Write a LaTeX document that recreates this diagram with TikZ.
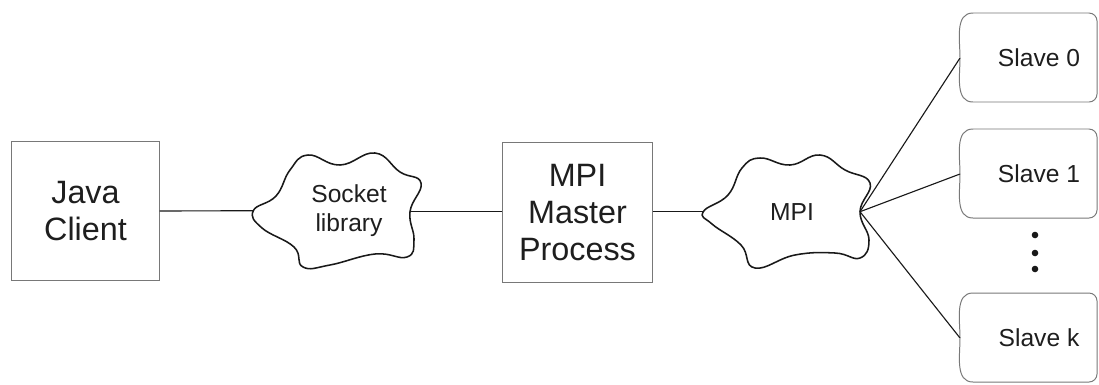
\documentclass[tikz,border=0pt]{standalone}
\usepackage{fontspec}
\setmainfont{Liberation Sans}
\usepackage{tikz}
\usetikzlibrary{calc}
\usetikzlibrary{positioning}
\definecolor{boxgray}{RGB}{120, 120, 120}
\definecolor{inkblack}{RGB}{25, 25, 25}
\definecolor{textgray}{RGB}{30, 30, 30}

\tikzset{
    procbox/.style  = {draw=boxgray, line width=0.7pt, inner sep=0pt, align=center, text=textgray,
                       font=\fontsize{23}{26.5}\selectfont},
    cloudlabel/.style = {inner sep=0pt, align=center, text=textgray, font=\fontsize{17.5}{20.5}\selectfont},
    cloudline/.style  = {inkblack, line width=1.1pt},
    wire/.style       = {inkblack, line width=0.8pt},
    slaveline/.style  = {boxgray, line width=0.7pt}
}

\begin{document}
\begin{tikzpicture}[x=0.025cm, y=-0.025cm]
            \useasboundingbox (0,0) rectangle (1099,384);

            \node[procbox, minimum width=3.675cm, minimum height=3.475cm] (client) at ( 85.5, 211.0) {Java\\Client};
            \node[procbox, minimum width=3.725cm, minimum height=3.475cm] (master) at (577.5, 212.5) {MPI\\Master\\Process};

            \draw[cloudline] plot[smooth cycle, tension=0.75] coordinates {
                 (253.3,210.7) (276,196) (290,170) (308,155) (340,165) (375,153) (400,172) (421,183)
                 (410,211.7) (414,240) (407,257) (375,254) (330,265) (303,267) (294,247) (262,228)};
            \coordinate (sock-w) at (253.3, 210.7);
            \coordinate (sock-e) at (410.0, 211.7);
            \node[cloudlabel] (sock) at (349, 211) {Socket\\library};

            \draw[cloudline] plot[smooth cycle, tension=0.75] coordinates {
                 (703.3,211.7) (728,195) (742,168) (760,158) (790,165) (820,155) (845,170) (870,183)
                 (860,211.7) (869,240) (860,258) (835,253) (795,255) (755,268) (741,245) (712,224)};
            \coordinate (mpi-w) at (703.3, 211.7);
            \coordinate (mpi-e) at (860.0, 211.7);
            \node[cloudlabel] (mpi) at (792, 212) {MPI};

            \foreach \name/\ypos/\label in {s0/58/Slave 0, s1/174/Slave 1, sk/338/Slave k} {
                \node[cloudlabel] (\name) at (1039, \ypos) {\label};
                \coordinate (\name-w) at ($(\name.center)+(-79,0)$);
                \draw[slaveline] ($(\name.center)+(-66,-45)$) -- ($(\name.center)+(50,-45)$)
                     to[out=0, in=90] ($(\name.center)+(58,-37)$) -- ($(\name.center)+(58,36)$)
                     to[out=-90, in=0] ($(\name.center)+(50,44)$) -- ($(\name.center)+(-66,44)$)
                     to[out=180, in=-90] (\name-w) to[out=90, in=180] ($(\name.center)+(-66,-45)$);
            }

            \draw[wire] (client.east) -- (sock-w);
            \draw[wire] (sock-e) -- (master.west |- sock-e);
            \draw[wire] (master.east |- mpi-w) -- (mpi-w);
            \draw[wire] (mpi-e) -- (s0-w);
            \draw[wire] (mpi-e) -- (s1-w);
            \draw[wire] (mpi-e) -- (sk-w);

            \foreach \ydot in {235, 253, 269}
                \fill[inkblack] (1035, \ydot) circle (3.3);
        \end{tikzpicture}
\end{document}
